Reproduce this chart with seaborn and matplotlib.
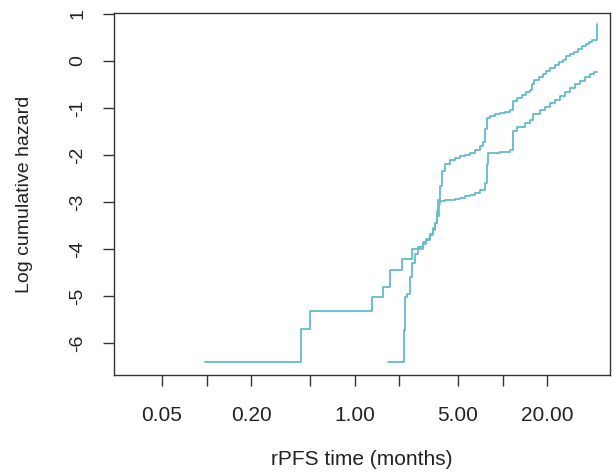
import matplotlib
matplotlib.use("Agg")
import matplotlib.pyplot as plt
import seaborn as sns
import pandas as pd

# Curve 1 (earlier-starting group)
time_a = [0.0976, 0.435, 0.50, 1.31, 1.56, 1.74, 2.09, 2.44, 2.90, 3.04, 3.24, 3.39,
          3.50, 3.61, 3.68, 3.78, 3.90, 4.09, 4.42, 4.77, 5.16, 5.58, 6.03, 6.51,
          7.04, 7.38, 7.61, 7.85, 8.23, 8.89, 9.61, 10.39, 11.23, 11.77, 12.5, 13.5,
          14.5, 15.3, 15.8, 16.3, 17.5, 18.7, 19.8, 21.0, 22.5, 24.0, 25.5, 27.0,
          28.5, 30.5, 32.5, 34.5, 36.5, 38.5, 40.5, 43.2, 43.6]
lch_a = [-6.40, -5.70, -5.32, -5.02, -4.81, -4.45, -4.21, -4.00, -3.89, -3.80, -3.70, -3.60,
         -3.45, -3.20, -2.95, -2.65, -2.35, -2.20, -2.10, -2.06, -2.03, -2.00, -1.96, -1.90,
         -1.80, -1.72, -1.45, -1.22, -1.17, -1.13, -1.11, -1.09, -1.05, -0.85, -0.78, -0.72,
         -0.67, -0.62, -0.50, -0.40, -0.34, -0.28, -0.21, -0.15, -0.09, -0.03, 0.03, 0.10,
         0.15, 0.20, 0.26, 0.31, 0.36, 0.41, 0.45, 0.79, 0.79]

# Curve 2 (later-starting group)
time_b = [1.68, 2.16, 2.19, 2.26, 2.37, 2.44, 2.56, 2.68, 2.90, 3.04, 3.24, 3.39,
          3.50, 3.61, 3.70, 3.78, 4.09, 4.77, 5.16, 5.58, 6.03, 6.51, 7.04, 7.61,
          7.85, 8.0, 9.61, 11.23, 11.77, 12.52, 14.18, 15.33, 16.0, 17.91, 19.36, 20.92,
          22.61, 24.44, 26.42, 28.56, 30.87, 33.37, 36.07, 38.98, 41.5, 43.6]
lch_b = [-6.40, -5.72, -5.02, -4.95, -4.60, -4.30, -4.10, -3.95, -3.85, -3.78, -3.68, -3.55,
         -3.45, -3.30, -3.05, -2.98, -2.96, -2.93, -2.92, -2.88, -2.85, -2.80, -2.74, -2.60,
         -2.20, -1.96, -1.94, -1.90, -1.50, -1.40, -1.32, -1.25, -1.12, -1.05, -0.98, -0.90,
         -0.82, -0.74, -0.66, -0.58, -0.50, -0.42, -0.34, -0.27, -0.23, -0.23]

xtick_vals = [0.05, 0.1, 0.2, 0.5, 1, 2, 5, 10, 20]
xtick_labels = ["0.05", "", "0.20", "", "1.00", "", "5.00", "", "20.00"]
ytick_vals = [-6, -5, -4, -3, -2, -1, 0, 1]

sns.set_style("white")
plt.rcParams["font.family"] = ["Liberation Sans", "DejaVu Sans"]

fig = plt.figure(figsize=(6.12, 4.74), dpi=100)
ax = fig.add_axes([114/612, 1 - 375/474, (610 - 114)/612, (375 - 13)/474])

color = "#62BCCD"
df_a = pd.DataFrame({"t": time_a, "h": lch_a})
df_b = pd.DataFrame({"t": time_b, "h": lch_b})
sns.lineplot(data=df_a, x="t", y="h", drawstyle="steps-post", estimator=None,
             sort=False, color=color, lw=1.3, ax=ax)
sns.lineplot(data=df_b, x="t", y="h", drawstyle="steps-post", estimator=None,
             sort=False, color=color, lw=1.3, ax=ax)

ax.set_xscale("log")
ax.set_xlim(0.0237, 53.2)
ax.set_ylim(-6.68, 1.02)
ax.set_xticks(xtick_vals)
ax.set_xticklabels(xtick_labels)
ax.minorticks_off()
ax.set_yticks(ytick_vals)
ax.set_yticklabels([str(v) for v in ytick_vals], rotation=90, va="center")

ax.tick_params(axis="x", direction="out", length=8, width=1, color="#333333",
               labelsize=15, pad=14, labelcolor="#222222")
ax.tick_params(axis="y", direction="out", length=8, width=1, color="#333333",
               labelsize=14, pad=12, labelcolor="#222222")
ax.tick_params(left=True, bottom=True)
for s in ax.spines.values():
    s.set_color("#333333")
    s.set_linewidth(1.0)

ax.set_xlabel("rPFS time (months)", fontsize=15, color="#222222", labelpad=18)
ax.set_ylabel("Log cumulative hazard", fontsize=14, color="#222222", labelpad=26)

fig.savefig("out.png", dpi=100)
